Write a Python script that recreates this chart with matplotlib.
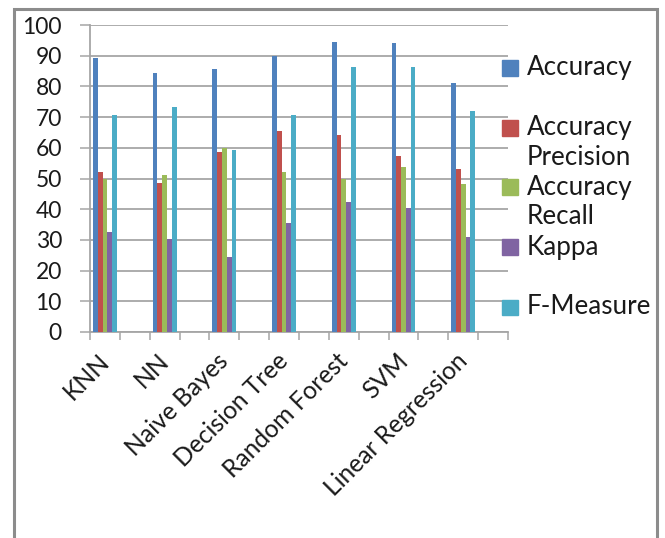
import matplotlib
matplotlib.use("Agg")
import matplotlib.pyplot as plt
from matplotlib.patches import Rectangle
from matplotlib.transforms import ScaledTranslation
import numpy as np

# Classifier results (percent)
categories = ["KNN", "NN", "Naive Bayes", "Decision Tree", "Random Forest", "SVM", "Linear Regression"]
series_names = ["Accuracy", "Accuracy\nPrecision", "Accuracy\nRecall", "Kappa", "F-Measure"]
accuracy = [89.1, 84.3, 85.6, 89.9, 94.6, 94.0, 81.0]
precision = [52.2, 48.6, 58.7, 65.5, 64.2, 57.3, 53.1]
recall = [50.0, 51.1, 60.0, 52.2, 50.0, 53.6, 48.2]
kappa = [32.7, 30.2, 24.5, 35.6, 42.4, 40.3, 31.0]
f_measure = [70.7, 73.2, 59.3, 70.7, 86.2, 86.2, 72.0]
y_ticks = list(range(0, 101, 10))

colors = ["#4F81BD", "#C0504D", "#9BBB59", "#8064A2", "#4BACC6"]
series = [accuracy, precision, recall, kappa, f_measure]

FONT = "Lato"
plt.rcParams["font.family"] = [FONT, "DejaVu Sans"]

W, H = 665, 538
fig = plt.figure(figsize=(W / 100, H / 100), dpi=100)
ax = fig.add_axes([90 / W, 1 - 332 / H, (508 - 90) / W, (332 - 25) / H])

# each category occupies every other slot; the slots between are left empty
n_slots = 2 * len(categories)
pos = np.arange(len(categories)) * 2
bar_w = 0.16
offsets = (np.arange(len(series)) - (len(series) - 1) / 2) * bar_w
for vals, off, col in zip(series, offsets, colors):
    ax.bar(pos + off, vals, width=bar_w, color=col, linewidth=0, zorder=3)

ax.set_xlim(-0.5, n_slots - 0.5)
ax.set_ylim(0, 100)

grid_col = "#a6a6a6"
text_col = "#1a1a1a"
ax.set_yticks(y_ticks)
ax.yaxis.grid(True, color=grid_col, linewidth=1.3, zorder=0)
ax.tick_params(axis="y", length=7.2, width=1.1, color=grid_col, pad=13,
               labelsize=16.5, labelcolor=text_col)

ax.set_xticks(pos)
ax.set_xticklabels(categories)
ax.set_xticks(np.arange(n_slots + 1) - 0.5, minor=True)
ax.tick_params(axis="x", which="major", length=0, pad=17.3, labelsize=17.7,
               labelcolor=text_col)
ax.tick_params(axis="x", which="minor", length=6, width=1.1, color=grid_col)
shift = ScaledTranslation(-1 / 100, 0, fig.dpi_scale_trans)
for lab in ax.get_xticklabels():
    lab.set_rotation(45)
    lab.set_ha("right")
    lab.set_va("center_baseline")
    lab.set_rotation_mode("anchor")
    lab.set_transform(lab.get_transform() + shift)

for side in ("top", "right"):
    ax.spines[side].set_visible(False)
for side in ("left", "bottom"):
    ax.spines[side].set_color(grid_col)
    ax.spines[side].set_linewidth(1.3)

# legend on the right, squares aligned with each label's first line
leg_y = [68, 128, 187, 247, 307]
for name, col, yc in zip(series_names, colors, leg_y):
    fig.patches.append(Rectangle((502 / W, 1 - (yc + 7.5) / H), 16 / W, 15 / H,
                                 transform=fig.transFigure, color=col))
    for k, line in enumerate(name.split("\n")):
        fig.text(527 / W, 1 - (yc + 30 * k) / H, line, fontsize=18.7,
                 color=text_col, va="center", ha="left")

# chart frame, running off the bottom edge
fig.patches.append(Rectangle((14 / W, -0.05), (657 - 14) / W, 1.05 - 8.5 / H,
                             transform=fig.transFigure, fill=False,
                             edgecolor="#8c8c8c", linewidth=2.2, clip_on=False))

fig.savefig("out.png", dpi=100)
